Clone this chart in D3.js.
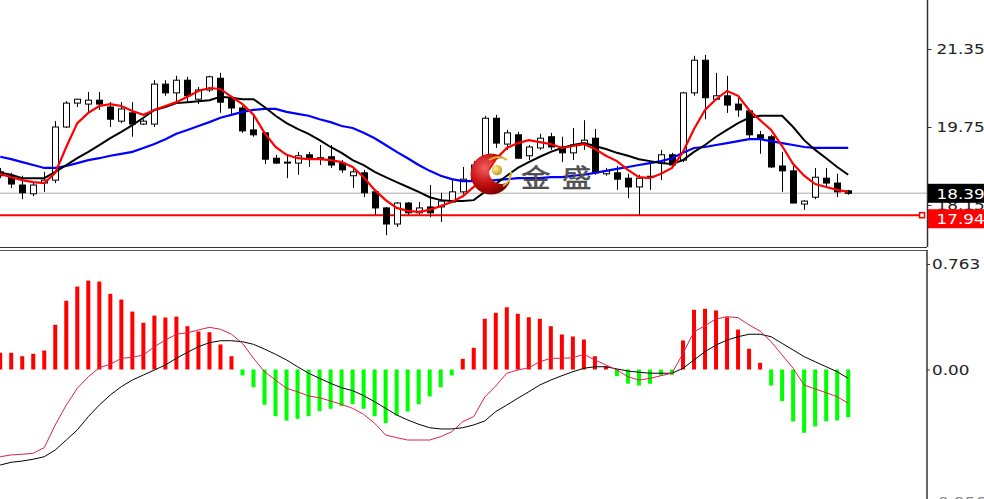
<!DOCTYPE html>
<html><head><meta charset="utf-8">
<script src="https://cdn.jsdelivr.net/npm/d3@7"></script>
<style>html,body{margin:0;padding:0;background:#fff;overflow:hidden}</style>
</head><body><svg id="c" width="984" height="499"></svg>
<script>
// ---------- DATA ----------
const opens  = [18.83,18.75,18.56,18.38,18.60,18.66,19.75,20.24,20.22,20.30,20.16,19.87,20.04,19.81,19.81,20.63,20.45,20.71,20.32,20.51,
                20.75,20.35,20.14,19.69,19.63,19.11,19.01,19.01,19.18,19.11,19.14,19.01,18.75,18.81,18.42,18.09,17.76,18.19,17.99,18.11,
                18.11,18.21,18.42,18.66,18.77,19.93,19.40,19.59,19.16,19.32,19.55,19.34,19.22,19.40,19.52,18.79,18.81,18.70,18.52,18.73,
                19.01,19.18,19.07,20.45,21.12,20.32,20.39,20.22,20.08,19.59,19.55,18.95,18.85,18.17,18.31,18.70,18.60,18.44];
const highs  = [18.91,18.81,18.75,18.62,18.83,19.87,20.28,20.33,20.47,20.47,20.26,20.26,20.26,19.91,20.71,20.71,20.80,20.78,20.57,20.80,
                20.86,20.39,20.18,19.98,19.63,19.18,19.19,19.24,19.24,19.38,19.38,19.07,18.91,18.87,18.46,18.11,18.21,18.21,18.21,18.56,
                18.40,18.66,18.93,19.05,19.98,20.00,19.69,19.65,19.38,19.61,19.63,19.55,19.73,19.89,19.71,18.91,18.95,18.79,18.77,19.03,
                19.28,19.22,20.47,21.21,21.23,20.86,20.80,20.35,20.10,19.67,19.59,19.24,18.95,18.25,18.91,18.91,18.79,18.46];
const lows   = [18.70,18.50,18.27,18.33,18.42,18.60,19.73,20.16,20.06,20.10,19.75,19.83,19.55,19.79,19.75,20.39,20.24,20.26,20.22,20.47,
                20.04,20.00,19.63,19.55,18.99,18.99,18.70,18.77,18.93,18.97,18.91,18.81,18.50,18.31,17.95,17.53,17.70,17.95,17.95,17.90,
                17.80,18.19,18.36,18.62,18.70,19.32,19.28,19.11,19.07,19.28,19.28,19.03,19.07,19.28,18.77,18.75,18.46,18.29,17.95,18.46,
                18.66,18.93,19.03,20.39,19.91,20.30,20.04,19.96,19.48,19.20,18.91,18.42,18.19,18.05,18.27,18.50,18.31,18.36];
const closes = [18.75,18.58,18.40,18.56,18.66,19.75,20.24,20.32,20.30,20.22,19.91,20.12,19.81,19.87,20.63,20.45,20.71,20.39,20.51,20.78,
                20.26,20.14,19.67,19.59,19.09,19.01,19.03,19.16,19.09,19.12,18.97,18.87,18.83,18.40,18.09,17.76,18.19,17.99,18.09,17.99,
                18.23,18.42,18.68,18.97,19.93,19.42,19.63,19.11,19.34,19.52,19.34,19.22,19.38,19.48,18.81,18.85,18.68,18.52,18.70,18.74,
                19.18,18.97,20.45,21.12,20.35,20.39,20.20,20.10,19.59,19.52,18.93,18.85,18.19,18.23,18.72,18.60,18.42,18.39];

const maFast = [18.79,18.72,18.66,18.62,18.60,18.81,19.34,19.83,20.04,20.18,20.22,20.18,20.08,20.00,20.10,20.18,20.26,20.37,20.49,20.55,
                20.53,20.37,20.22,20.00,19.63,19.34,19.18,19.11,19.09,19.09,19.07,19.03,18.93,18.72,18.46,18.25,18.09,18.03,18.01,18.05,
                18.13,18.21,18.33,18.52,18.75,19.09,19.32,19.42,19.48,19.44,19.40,19.32,19.36,19.40,19.30,19.16,19.05,18.87,18.72,18.70,
                18.79,18.91,19.24,19.71,20.10,20.32,20.49,20.39,20.10,19.89,19.69,19.36,18.99,18.75,18.58,18.52,18.46,18.42];
const maMid  = [18.81,18.77,18.70,18.70,18.70,18.83,18.97,19.11,19.24,19.38,19.52,19.65,19.79,19.94,20.10,20.16,20.24,20.26,20.28,20.30,
                20.37,20.35,20.32,20.32,20.16,19.98,19.83,19.71,19.61,19.48,19.34,19.22,19.07,18.97,18.83,18.72,18.62,18.52,18.42,18.31,
                18.25,18.23,18.23,18.25,18.42,18.58,18.75,18.91,19.03,19.14,19.24,19.32,19.38,19.42,19.36,19.30,19.22,19.16,19.09,19.05,
                19.01,18.99,19.07,19.24,19.38,19.55,19.69,19.83,19.94,19.98,19.98,19.98,19.75,19.48,19.28,19.11,18.93,18.77];
const maSlow = [19.14,19.09,19.03,18.97,18.91,18.91,18.95,19.01,19.07,19.11,19.16,19.20,19.24,19.32,19.40,19.50,19.61,19.69,19.77,19.85,
                19.94,20.00,20.06,20.10,20.12,20.12,20.06,20.02,19.98,19.91,19.85,19.77,19.73,19.63,19.52,19.38,19.24,19.11,18.97,18.85,
                18.75,18.68,18.64,18.64,18.64,18.66,18.68,18.70,18.70,18.70,18.72,18.72,18.75,18.77,18.81,18.85,18.89,18.93,18.97,19.01,
                19.05,19.11,19.22,19.32,19.34,19.38,19.42,19.46,19.50,19.50,19.46,19.42,19.38,19.34,19.32,19.32,19.32,19.32];

const macdHist = [0.121,0.121,0.096,0.114,0.137,0.323,0.497,0.600,0.643,0.636,0.547,0.506,0.419,0.338,0.390,0.376,0.383,0.313,0.275,0.270,
                  0.181,0.096,-0.043,-0.128,-0.255,-0.338,-0.369,-0.356,-0.338,-0.301,-0.284,-0.265,-0.251,-0.284,-0.338,-0.388,-0.333,-0.304,-0.251,-0.195,
                  -0.128,-0.043,0.077,0.157,0.367,0.410,0.450,0.403,0.378,0.367,0.313,0.253,0.239,0.217,0.096,0.022,-0.048,-0.103,-0.116,-0.103,
                  -0.043,-0.038,0.210,0.432,0.439,0.427,0.378,0.289,0.150,0.048,-0.116,-0.229,-0.376,-0.458,-0.412,-0.374,-0.369,-0.345];
const macdMain = [-0.631,-0.618,-0.613,-0.606,-0.565,-0.401,-0.257,-0.136,-0.052,0.013,0.038,0.081,0.088,0.105,0.165,0.213,0.255,0.266,0.286,0.305,
                  0.291,0.255,0.189,0.081,-0.016,-0.076,-0.136,-0.161,-0.192,-0.204,-0.228,-0.252,-0.281,-0.324,-0.389,-0.474,-0.493,-0.510,-0.510,-0.510,
                  -0.486,-0.450,-0.377,-0.341,-0.199,-0.119,-0.027,-0.004,0.013,0.056,0.081,0.081,0.085,0.110,0.069,0.033,-0.004,-0.052,-0.076,-0.064,
                  -0.045,-0.027,0.117,0.273,0.317,0.365,0.382,0.375,0.322,0.278,0.201,0.105,0.009,-0.112,-0.141,-0.168,-0.197,-0.244];
const macdSignal = [-0.691,-0.671,-0.662,-0.649,-0.631,-0.582,-0.510,-0.437,-0.341,-0.257,-0.184,-0.124,-0.076,-0.040,-0.004,0.033,0.081,0.124,0.165,0.194,
                    0.208,0.208,0.201,0.182,0.148,0.110,0.069,0.020,-0.027,-0.064,-0.100,-0.132,-0.153,-0.189,-0.233,-0.281,-0.329,-0.365,-0.396,-0.421,
                    -0.430,-0.430,-0.421,-0.401,-0.372,-0.304,-0.257,-0.208,-0.161,-0.112,-0.076,-0.045,-0.016,0.009,0.020,0.020,0.004,-0.011,-0.020,-0.027,
                    -0.027,-0.027,0.009,0.069,0.129,0.177,0.213,0.237,0.255,0.255,0.237,0.189,0.141,0.093,0.056,0.020,-0.016,-0.064];

const priceTicks = [21.35, 19.75, 18.15];
const macdTicks = [0.763, 0.00];
const macdBottomLabel = "-0.956";
const bidPrice = 18.39;
const levelPrice = 17.94;
const logoChars = ["金", "盛"];

// ---------- DRAW ----------
const svg = d3.select("#c");
const W = 984, H = 499;
const axisX = 927;
const mainTop = 0, mainBot = 247;
const subTop = 251, subBot = 499;
const FONT = "DejaVu Sans, Verdana, sans-serif";
const STRETCH = 1.16;

const idx = d3.range(opens.length);
const x = d3.scaleLinear().domain([0, opens.length - 1]).range([0.2, 848.2]);
const yP = d3.scaleLinear().domain([19.75, 21.35]).range([127, 49]);
const yM = d3.scaleLinear().domain([0, 0.763]).range([369.5, 264]);

const defs = svg.append("defs");
defs.append("clipPath").attr("id", "clipMain").append("rect")
  .attr("x", 0).attr("y", mainTop).attr("width", axisX).attr("height", mainBot - mainTop);
defs.append("clipPath").attr("id", "clipSub").append("rect")
  .attr("x", 0).attr("y", subTop).attr("width", axisX).attr("height", subBot - subTop);

svg.append("rect").attr("width", W).attr("height", H).attr("fill", "#fff");

const main = svg.append("g").attr("clip-path", "url(#clipMain)");

// bid line and level line
main.append("line").attr("x1", 0).attr("x2", axisX)
  .attr("y1", yP(bidPrice)).attr("y2", yP(bidPrice))
  .attr("stroke", "#c8c8c8").attr("stroke-width", 1.5);
main.append("line").attr("x1", 0).attr("x2", 919)
  .attr("y1", yP(levelPrice)).attr("y2", yP(levelPrice))
  .attr("stroke", "#ff0000").attr("stroke-width", 2);

// candles
const cg = main.append("g");
idx.forEach(i => {
  const cx = Math.round(x(i)) + 0.5;
  cg.append("line").attr("x1", cx).attr("x2", cx)
    .attr("y1", yP(highs[i])).attr("y2", yP(lows[i]))
    .attr("stroke", "#000").attr("stroke-width", 1);
  const up = closes[i] >= opens[i];
  const top = yP(Math.max(opens[i], closes[i]));
  const bot = yP(Math.min(opens[i], closes[i]));
  cg.append("rect").attr("x", cx - 3).attr("y", top)
    .attr("width", 6).attr("height", Math.max(1, bot - top))
    .attr("fill", up ? "#fff" : "#000").attr("stroke", "#000").attr("stroke-width", 1);
});

// moving averages
const lineP = arr => d3.line().x((d, i) => x(i)).y(d => yP(d))(arr);
main.append("path").attr("d", lineP(maSlow)).attr("fill", "none").attr("stroke", "#0000ff").attr("stroke-width", 2.2);
main.append("path").attr("d", lineP(maMid)).attr("fill", "none").attr("stroke", "#000").attr("stroke-width", 2);
main.append("path").attr("d", lineP(maFast)).attr("fill", "none").attr("stroke", "#ff0000").attr("stroke-width", 2.2);

// logo
const rg = defs.append("radialGradient").attr("id", "ball").attr("cx", "35%").attr("cy", "35%").attr("r", "70%");
rg.append("stop").attr("offset", "0%").attr("stop-color", "#f06060");
rg.append("stop").attr("offset", "55%").attr("stop-color", "#c81010");
rg.append("stop").attr("offset", "100%").attr("stop-color", "#7a0000");
const gg = defs.append("radialGradient").attr("id", "gold").attr("cx", "35%").attr("cy", "35%").attr("r", "70%");
gg.append("stop").attr("offset", "0%").attr("stop-color", "#fff2a0");
gg.append("stop").attr("offset", "100%").attr("stop-color", "#c89a10");
const mask = defs.append("mask").attr("id", "cres");
mask.append("rect").attr("x", 440).attr("y", 130).attr("width", 100).attr("height", 90).attr("fill", "#fff");
mask.append("circle").attr("cx", 502).attr("cy", 171).attr("r", 13).attr("fill", "#000");
const logo = main.append("g");
logo.append("circle").attr("cx", 491).attr("cy", 174).attr("r", 20.5)
  .attr("fill", "url(#ball)").attr("mask", "url(#cres)");
logo.append("circle").attr("cx", 497).attr("cy", 170).attr("r", 5.2).attr("fill", "url(#gold)");
logo.append("path").attr("d", "M489,160 Q499,154 507,160").attr("fill", "none").attr("stroke", "#d8b030").attr("stroke-width", 2);
logo.append("path").attr("d", "M511,172 Q511,182 503,186").attr("fill", "none").attr("stroke", "#d8b030").attr("stroke-width", 2);
[[521, logoChars[0]], [562, logoChars[1]]].forEach(([lx, ch]) => {
  logo.append("text").attr("transform", `translate(${lx},187) scale(1.18,1)`)
    .attr("font-family", "Noto Sans CJK SC, sans-serif").attr("font-size", 25)
    .attr("fill", "#5a5a5a").attr("stroke", "#2a2a2a").attr("stroke-width", 0.4)
    .text(ch);
});

// MACD panel
const sub = svg.append("g").attr("clip-path", "url(#clipSub)");
idx.forEach(i => {
  const v = macdHist[i];
  const y0 = yM(0), y1 = yM(v);
  sub.append("rect").attr("x", x(i) - 2).attr("width", 4)
    .attr("y", Math.min(y0, y1)).attr("height", Math.abs(y1 - y0))
    .attr("fill", v >= 0 ? "#ff0000" : "#00ff00");
});
const lineM = arr => d3.line().x((d, i) => x(i)).y(d => yM(d))(arr);
sub.append("path").attr("d", lineM(macdSignal)).attr("fill", "none").attr("stroke", "#000").attr("stroke-width", 1);
sub.append("path").attr("d", lineM(macdMain)).attr("fill", "none").attr("stroke", "#dc2050").attr("stroke-width", 1);

// separators and axis lines
svg.append("line").attr("x1", 0).attr("x2", axisX).attr("y1", 247.5).attr("y2", 247.5).attr("stroke", "#333").attr("stroke-width", 1);
svg.append("line").attr("x1", 0).attr("x2", axisX).attr("y1", 250.5).attr("y2", 250.5).attr("stroke", "#555").attr("stroke-width", 1);

function stretch(sel) {
  sel.each(function () {
    const w = this.getComputedTextLength();
    d3.select(this).attr("textLength", w * STRETCH).attr("lengthAdjust", "spacingAndGlyphs");
  });
}

const axP = svg.append("g").attr("transform", `translate(${axisX + 0.5},0)`)
  .call(d3.axisRight(yP).tickValues(priceTicks).tickFormat(d3.format(".2f")).tickSize(4).tickPadding(5).tickSizeOuter(0));
axP.select(".domain").attr("d", `M0,0V${mainBot}`).attr("stroke", "#333").attr("stroke-width", 1.5);
axP.selectAll("line").attr("stroke", "#333");
axP.selectAll("text").attr("font-family", FONT).attr("font-size", 14.5).attr("fill", "#222").call(stretch);

const axM = svg.append("g").attr("transform", `translate(${axisX},0)`)
  .call(d3.axisRight(yM).tickValues(macdTicks).tickFormat(d => d === 0 ? "0.00" : d3.format(".3f")(d)).tickSize(3).tickPadding(2).tickSizeOuter(0));
axM.select(".domain").attr("d", `M0,${subTop - 1}V${H}`).attr("stroke", "#333").attr("stroke-width", 1.5);
axM.selectAll("line").attr("stroke", "#333");
axM.selectAll("text").attr("font-family", FONT).attr("font-size", 14.5).attr("fill", "#222").call(stretch);
svg.append("text").attr("x", axisX + 5).attr("y", 507).attr("font-family", FONT).attr("font-size", 14.5)
  .attr("fill", "#888").text(macdBottomLabel).call(stretch);

// price boxes
function priceBox(price, bg, cy) {
  svg.append("rect").attr("x", axisX + 1).attr("y", cy - 9.5).attr("width", W - axisX).attr("height", 19).attr("fill", bg);
  svg.append("text").attr("x", axisX + 9.5).attr("y", cy).attr("dy", "0.36em")
    .attr("font-family", FONT).attr("font-size", 14.5).attr("fill", "#fff")
    .text(d3.format(".2f")(price)).call(stretch);
}
priceBox(bidPrice, "#000", yP(bidPrice));
priceBox(levelPrice, "#ff0000", yP(levelPrice) + 3.5);
// level marker square
svg.append("rect").attr("x", 919.5).attr("y", yP(levelPrice) - 2.5).attr("width", 5).attr("height", 5)
  .attr("fill", "#fff").attr("stroke", "#ff0000").attr("stroke-width", 1.5);
</script></body></html>
